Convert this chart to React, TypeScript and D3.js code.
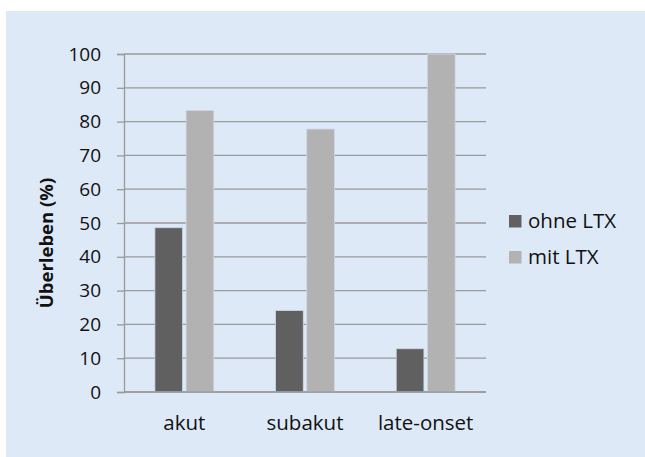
import React, { useEffect, useRef } from 'react';
import * as d3 from 'd3';

const categories = ['akut', 'subakut', 'late-onset'];
const seriesNames = ['ohne LTX', 'mit LTX'];
const ohneLTX = [48.6, 24.1, 12.8];
const mitLTX = [83.3, 77.8, 100];
const yTicks = [0, 10, 20, 30, 40, 50, 60, 70, 80, 90, 100];
const colors = ['#606060', '#b2b2b2'];

const width = 645;
const height = 457;

export default function App() {
  const ref = useRef<SVGSVGElement>(null);

  useEffect(() => {
    const svg = d3.select(ref.current);
    svg.selectAll('*').remove();
    const font = "'Open Sans', 'Noto Sans', sans-serif";

    svg
      .append('rect')
      .attr('x', 6)
      .attr('y', 11)
      .attr('width', width - 6)
      .attr('height', height - 11)
      .attr('fill', '#dde9f7');

    const left = 124;
    const right = 486;
    const top = 54;
    const bottom = 392;

    const y = d3.scaleLinear().domain([0, 100]).range([bottom, top]);
    const x = d3.scaleBand().domain(categories).range([left, right]).padding(0);
    const xInner = d3
      .scaleBand()
      .domain(seriesNames)
      .range([0, x.bandwidth()])
      .paddingInner(0.112)
      .paddingOuter(0.99);

    // gridlines
    svg
      .append('g')
      .selectAll('line')
      .data(yTicks)
      .enter()
      .append('line')
      .attr('x1', left)
      .attr('x2', right)
      .attr('y1', (d) => y(d))
      .attr('y2', (d) => y(d))
      .attr('stroke', '#999a9c')
      .attr('stroke-width', 1.3);

    const yAxis = svg
      .append('g')
      .attr('transform', `translate(${left},0)`)
      .call(
        d3
          .axisLeft(y)
          .tickValues(yTicks)
          .tickSize(7)
          .tickPadding(16)
          .tickFormat((d) => String(d))
      );
    yAxis.select('.domain').attr('stroke', '#999a9c').attr('stroke-width', 1.3);
    yAxis.selectAll('.tick line').attr('stroke', '#999a9c').attr('stroke-width', 1.3);
    yAxis
      .selectAll('.tick text')
      .attr('fill', '#111')
      .style('font-family', font)
      .style('font-size', '19px');

    const data = categories.map((c, i) => ({ cat: c, vals: [ohneLTX[i], mitLTX[i]] }));

    const groups = svg
      .selectAll('.grp')
      .data(data)
      .enter()
      .append('g')
      .attr('class', 'grp')
      .attr('transform', (d) => `translate(${x(d.cat)},0)`);

    groups
      .selectAll('rect')
      .data((d) => d.vals.map((v, j) => ({ v, s: seriesNames[j], j })))
      .enter()
      .append('rect')
      .attr('x', (d) => xInner(d.s)!)
      .attr('width', xInner.bandwidth())
      .attr('y', (d) => y(d.v))
      .attr('height', (d) => bottom - y(d.v))
      .attr('fill', (d) => colors[d.j])
      .attr('stroke', '#cfd8e2')
      .attr('stroke-width', 0.8);

    // baseline over bars
    svg
      .append('line')
      .attr('x1', left)
      .attr('x2', right)
      .attr('y1', bottom)
      .attr('y2', bottom)
      .attr('stroke', '#999a9c')
      .attr('stroke-width', 1.3);

    // x labels
    svg
      .append('g')
      .selectAll('text')
      .data(categories)
      .enter()
      .append('text')
      .attr('x', (d) => x(d)! + x.bandwidth() / 2)
      .attr('y', 430)
      .attr('text-anchor', 'middle')
      .attr('fill', '#111')
      .style('font-family', font)
      .style('font-size', '20.5px')
      .text((d) => d);

    // y title
    svg
      .append('text')
      .attr('transform', 'translate(53,243) rotate(-90)')
      .attr('text-anchor', 'middle')
      .attr('fill', '#111')
      .style('font-family', font)
      .style('font-size', '18.5px')
      .style('font-weight', 700)
      .text('Überleben (%)');

    // legend
    const leg = svg
      .selectAll('.legend')
      .data(seriesNames)
      .enter()
      .append('g')
      .attr('class', 'legend')
      .attr('transform', (d, i) => `translate(509,${215 + i * 36})`);
    leg
      .append('rect')
      .attr('width', 12.5)
      .attr('height', 12.5)
      .attr('fill', (d, i) => colors[i]);
    leg
      .append('text')
      .attr('x', 19)
      .attr('y', 12.5)
      .attr('fill', '#111')
      .style('font-family', font)
      .style('font-size', '20.5px')
      .text((d) => d);
  }, []);

  return (
    <svg
      ref={ref}
      width={width}
      height={height}
      style={{ position: 'absolute', left: 0, top: 0, background: '#fff' }}
    />
  );
}
